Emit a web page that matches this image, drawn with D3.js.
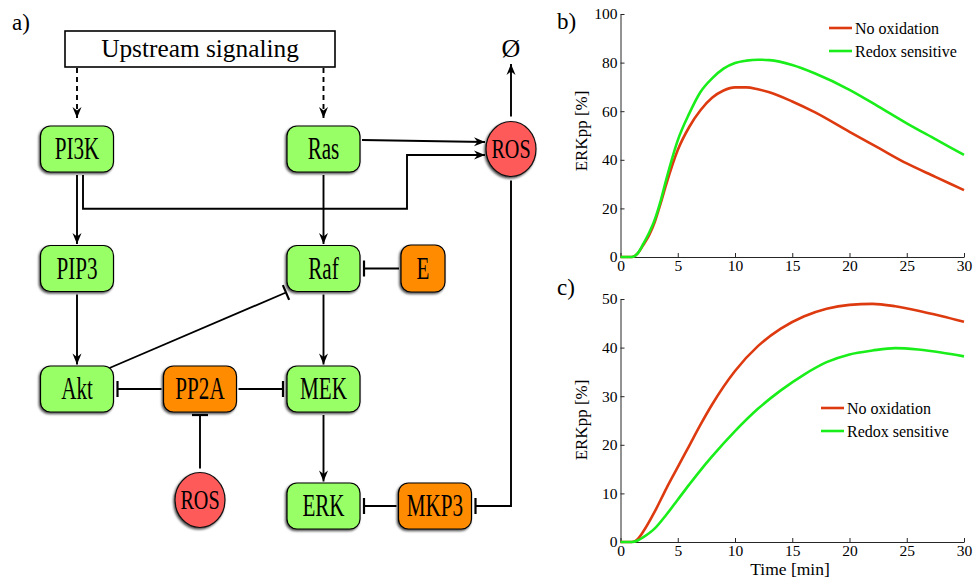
<!DOCTYPE html>
<html>
<head>
<meta charset="utf-8">
<script src="https://cdn.jsdelivr.net/npm/d3@7"></script>
<style>
body { margin: 0; background: #fff; }
svg text { font-family: "Liberation Serif", "Times New Roman", serif; fill: #000; }
</style>
</head>
<body>
<div id="wrapper"></div>
<script>
// ---- panel b data (ERKpp %, time in min)
var timeB   = [0, 1, 1.5, 2, 2.5, 3, 3.5, 4, 5, 6, 7, 8, 9, 10, 11, 12, 13, 15, 17, 20, 22.5, 25, 27.5, 30];
var noOxB   = [0, 0, 1.5, 5, 9, 14.5, 22, 30, 44, 53.5, 60.5, 65.5, 68.5, 69.8, 69.8, 69, 67.8, 64, 59.5, 51.5, 45, 38.5, 33, 27.5];
var redoxB  = [0, 0, 1.5, 5.5, 10, 15.5, 23, 32, 48, 59, 68, 73.5, 77.5, 79.8, 80.8, 81.2, 81, 79, 75.5, 68.8, 62, 55, 48.5, 42];

// ---- panel c data
var timeC   = [0, 1, 1.5, 2, 3, 4, 5, 6, 7, 8, 10, 12, 14, 16, 18, 20, 22, 24, 26, 28, 30];
var noOxC   = [0, 0, 0.6, 2.2, 6.3, 11, 15.4, 19.8, 24.2, 28.3, 35.2, 40.3, 43.9, 46.4, 48, 48.8, 49, 48.5, 47.6, 46.5, 45.3];
var redoxC  = [0, 0, 0.3, 1, 2.8, 5.6, 8.7, 11.8, 14.8, 17.6, 22.8, 27.4, 31.2, 34.4, 37, 38.6, 39.4, 39.9, 39.6, 39, 38.2];

var seriesNames = ["No oxidation", "Redox sensitive"];
var seriesColors = ["#dd3a10", "#1aee1a"];
var ticksX = [0, 5, 10, 15, 20, 25, 30];
var ticksB = [0, 20, 40, 60, 80, 100];
var ticksC = [0, 10, 20, 30, 40, 50];

// ---- network (panel a)
var nodes = [
    {id: "up",   label: "Upstream signaling", kind: "plain",  col: "b", row: "r0"},
    {id: "null", label: "Ø",    kind: "none",   col: "f", row: "r0"},
    {id: "pi3k", label: "PI3K", kind: "green",  col: "a", row: "r1"},
    {id: "ras",  label: "Ras",  kind: "green",  col: "c", row: "r1"},
    {id: "ros1", label: "ROS",  kind: "red",    col: "f", row: "r1"},
    {id: "pip3", label: "PIP3", kind: "green",  col: "a", row: "r2"},
    {id: "raf",  label: "Raf",  kind: "green",  col: "c", row: "r2"},
    {id: "e",    label: "E",    kind: "small",  col: "d", row: "r2"},
    {id: "akt",  label: "Akt",  kind: "green",  col: "a", row: "r3"},
    {id: "pp2a", label: "PP2A", kind: "orange", col: "b", row: "r3"},
    {id: "mek",  label: "MEK",  kind: "green",  col: "c", row: "r3"},
    {id: "ros2", label: "ROS",  kind: "red",    col: "b", row: "r4"},
    {id: "erk",  label: "ERK",  kind: "green",  col: "c", row: "r5"},
    {id: "mkp3", label: "MKP3", kind: "orange", col: "e", row: "r5"}
];

var edges = [
    {from: "up",   to: "pi3k", type: "dashed",  route: "down"},
    {from: "up",   to: "ras",  type: "dashed",  route: "down"},
    {from: "pi3k", to: "pip3", type: "arrow",   route: "down"},
    {from: "pi3k", to: "ros1", type: "arrow",   route: "pi3kRos"},
    {from: "ras",  to: "ros1", type: "arrow",   route: "rasRos"},
    {from: "ros1", to: "null", type: "arrow",   route: "nullUp"},
    {from: "ras",  to: "raf",  type: "arrow",   route: "down"},
    {from: "e",    to: "raf",  type: "inhibit", route: "left"},
    {from: "pip3", to: "akt",  type: "arrow",   route: "down"},
    {from: "akt",  to: "raf",  type: "inhibit", route: "diag"},
    {from: "raf",  to: "mek",  type: "arrow",   route: "down"},
    {from: "pp2a", to: "akt",  type: "inhibit", route: "left"},
    {from: "pp2a", to: "mek",  type: "inhibit", route: "right"},
    {from: "ros2", to: "pp2a", type: "inhibit", route: "up"},
    {from: "mek",  to: "erk",  type: "arrow",   route: "down"},
    {from: "mkp3", to: "erk",  type: "inhibit", route: "left"},
    {from: "ros1", to: "mkp3", type: "inhibit", route: "rosMkp3"}
];

var colX = d3.scaleOrdinal().domain(["a", "b", "c", "d", "e", "f"]).range([77, 200, 323.5, 423, 435, 511]);
var rowY = d3.scaleOrdinal().domain(["r0", "r1", "r2", "r3", "r4", "r5"]).range([49, 149, 268.5, 389, 500, 506]);

var SERIF = "'Liberation Serif', 'Times New Roman', serif";

var look = {
    plain:  {w: 270, h: 36, fill: "#fff",    r: 0,  fs: 26, sq: 0.975},
    none:   {w: 0,   h: 0,  fill: "none",    r: 0,  fs: 26, sq: 1},
    green:  {w: 73,  h: 46, fill: "#99ff66", r: 10, fs: 32, sq: 0.66},
    orange: {w: 73,  h: 46, fill: "#ff8c00", r: 10, fs: 32, sq: 0.66},
    small:  {w: 44,  h: 47, fill: "#ff8c00", r: 10, fs: 32, sq: 0.66},
    red:    {w: 50,  h: 55, fill: "#ff5a5a", r: 0,  fs: 28, sq: 0.72}
};

var svg = d3.select("#wrapper").append("svg")
    .attr("width", 975)
    .attr("height", 581)
    .attr("font-family", SERIF);

var defs = svg.append("defs");
defs.append("marker")
    .attr("id", "arrow")
    .attr("viewBox", "-12 -6 13 12")
    .attr("refX", 0).attr("refY", 0)
    .attr("markerWidth", 13).attr("markerHeight", 12)
    .attr("markerUnits", "userSpaceOnUse")
    .attr("orient", "auto")
    .append("path")
    .attr("d", "M0,0 L-11,-4.5 L-7.5,0 L-11,4.5 Z")
    .attr("fill", "#000");
defs.append("marker")
    .attr("id", "bar")
    .attr("viewBox", "-2 -9 4 18")
    .attr("refX", 0).attr("refY", 0)
    .attr("markerWidth", 4).attr("markerHeight", 18)
    .attr("markerUnits", "userSpaceOnUse")
    .attr("orient", "auto")
    .append("path")
    .attr("d", "M0,-8 L0,8")
    .attr("stroke", "#000")
    .attr("stroke-width", 2.2);
var shadow = defs.append("filter").attr("id", "shadow")
    .attr("x", "-20%").attr("y", "-20%").attr("width", "140%").attr("height", "150%");
shadow.append("feDropShadow")
    .attr("dx", -1.2).attr("dy", 1.6)
    .attr("stdDeviation", 0.9)
    .attr("flood-color", "#000")
    .attr("flood-opacity", 0.7);

// node geometry
var byId = {};
nodes.forEach(n => {
    var s = look[n.kind];
    n.x = colX(n.col);
    n.y = rowY(n.row);
    n.w = s.w; n.h = s.h;
    n.l = n.x - n.w / 2; n.r = n.x + n.w / 2;
    n.t = n.y - n.h / 2; n.b = n.y + n.h / 2;
    byId[n.id] = n;
});

function route(e) {
    var f = byId[e.from], t = byId[e.to];
    switch (e.route) {
        case "down":
            return e.type == "dashed"
                ? [[t.x, f.b + 1], [t.x, t.t - 8]]
                : [[t.x, f.b + 3], [t.x, t.t - 1.5]];
        case "up":      return [[f.x, f.t - 4], [f.x, t.b + 3]];
        case "left":    return [[f.l - 2, f.y], [t.r + 4, f.y]];
        case "right":   return [[f.r + 2, f.y], [t.l - 4, f.y]];
        case "diag":    return [[f.r - 4, f.t + 2], [t.l - 1, t.b + 1]];
        case "rasRos":  return [[f.r + 2, f.y - 9], [t.l - 1, t.y - 7]];
        case "nullUp":  return [[f.x, f.t - 5], [t.x, t.y + 15]];
        case "pi3kRos":
            var midY = (rowY("r1") + rowY("r2")) / 2;
            return [[f.x + 6, f.b + 3], [f.x + 6, midY], [t.l - 79, midY], [t.l - 79, t.y + 6], [t.l - 1, t.y + 6]];
        case "rosMkp3": return [[f.x, f.b + 4], [f.x, t.y], [t.r + 4, t.y]];
    }
}

var line = d3.line();
svg.append("g")
    .selectAll("path")
    .data(edges)
    .enter()
    .append("path")
    .attr("d", d => line(route(d)))
    .attr("fill", "none")
    .attr("stroke", "#000")
    .attr("stroke-width", 1.9)
    .attr("stroke-dasharray", d => d.type == "dashed" ? "5,4" : null)
    .attr("marker-end", d => d.type == "inhibit" ? "url(#bar)" : "url(#arrow)");

var nodeG = svg.append("g")
    .selectAll("g")
    .data(nodes)
    .enter()
    .append("g")
    .attr("transform", d => `translate(${d.x},${d.y})`);

nodeG.filter(d => d.kind == "red")
    .append("ellipse")
    .attr("rx", d => d.w / 2)
    .attr("ry", d => d.h / 2)
    .attr("fill", d => look[d.kind].fill)
    .attr("stroke", "#111")
    .attr("stroke-width", 1.2)
    .attr("filter", "url(#shadow)");

nodeG.filter(d => d.kind != "red" && d.kind != "none")
    .append("rect")
    .attr("x", d => -d.w / 2)
    .attr("y", d => -d.h / 2)
    .attr("width", d => d.w)
    .attr("height", d => d.h)
    .attr("rx", d => look[d.kind].r)
    .attr("fill", d => look[d.kind].fill)
    .attr("stroke", "#000")
    .attr("stroke-width", d => d.kind == "plain" ? 1.6 : 1.2)
    .attr("filter", d => d.kind == "plain" ? null : "url(#shadow)");

nodeG.append("text")
    .attr("transform", d => `scale(${look[d.kind].sq},1)`)
    .attr("y", d => look[d.kind].fs * 0.32)
    .attr("font-family", SERIF)
    .style("font-size", d => look[d.kind].fs + "px")
    .style("text-anchor", "middle")
    .text(d => d.label);

// panel letters
var letters = [["a)", 12, 30], ["b)", 557, 29], ["c)", 557, 295]];
svg.append("g").selectAll("text")
    .data(letters)
    .enter()
    .append("text")
    .attr("x", d => d[1]).attr("y", d => d[2])
    .attr("font-family", SERIF)
    .style("font-size", "23px")
    .text(d => d[0]);

// ---- line charts
var x = d3.scaleLinear().domain([0, 30]).range([620.5, 964]);

function drawPanel(times, values, yDomain, yRange, yTicks, legendPos, labelY, withXLabel) {
    var y = d3.scaleLinear().domain(yDomain).range(yRange);
    var g = svg.append("g");

    var ax = g.append("g")
        .attr("transform", `translate(0,${yRange[0]})`)
        .call(d3.axisBottom(x).tickValues(ticksX).tickSize(-4).tickSizeOuter(0).tickPadding(3));
    var ay = g.append("g")
        .attr("transform", `translate(${x.range()[0]},0)`)
        .call(d3.axisLeft(y).tickValues(yTicks).tickSize(-4).tickSizeOuter(0).tickPadding(3));
    [ax, ay].forEach(a => {
        a.attr("font-family", SERIF).attr("font-size", 15.5);
        a.selectAll("path, line").attr("stroke", "#262626");
        a.selectAll("text").attr("fill", "#000");
    });

    var lineGen = d3.line()
        .x((d, i) => x(times[i]))
        .y(d => y(d))
        .curve(d3.curveMonotoneX);

    g.selectAll(".curve")
        .data(values)
        .enter()
        .append("path")
        .attr("class", "curve")
        .attr("d", d => lineGen(d))
        .attr("fill", "none")
        .attr("stroke", (d, i) => seriesColors[i])
        .attr("stroke-width", 2.6);

    var leg = g.append("g").attr("transform", `translate(${legendPos[0]},${legendPos[1]})`);
    seriesNames.forEach((name, i) => {
        leg.append("line")
            .attr("x1", 0).attr("x2", 23)
            .attr("y1", i * 23).attr("y2", i * 23)
            .attr("stroke", seriesColors[i])
            .attr("stroke-width", 2.6);
        leg.append("text")
            .attr("x", 26).attr("y", i * 23 + 5.5)
            .attr("font-family", SERIF)
            .style("font-size", "16px")
            .text(name);
    });

    g.append("text")
        .attr("transform", `translate(587,${labelY}) rotate(-90)`)
        .attr("font-family", SERIF)
        .style("font-size", "17px")
        .style("text-anchor", "middle")
        .text("ERKpp [%]");

    if (withXLabel) {
        g.append("text")
            .attr("x", 790).attr("y", 575)
            .attr("font-family", SERIF)
            .style("font-size", "17.5px")
            .style("text-anchor", "middle")
            .text("Time [min]");
    }
}

drawPanel(timeB, [noOxB, redoxB], [0, 100], [257, 14], ticksB, [829, 28], 131, false);
drawPanel(timeC, [noOxC, redoxC], [0, 50], [542, 299], ticksC, [821, 408], 420, true);
</script>
</body>
</html>
